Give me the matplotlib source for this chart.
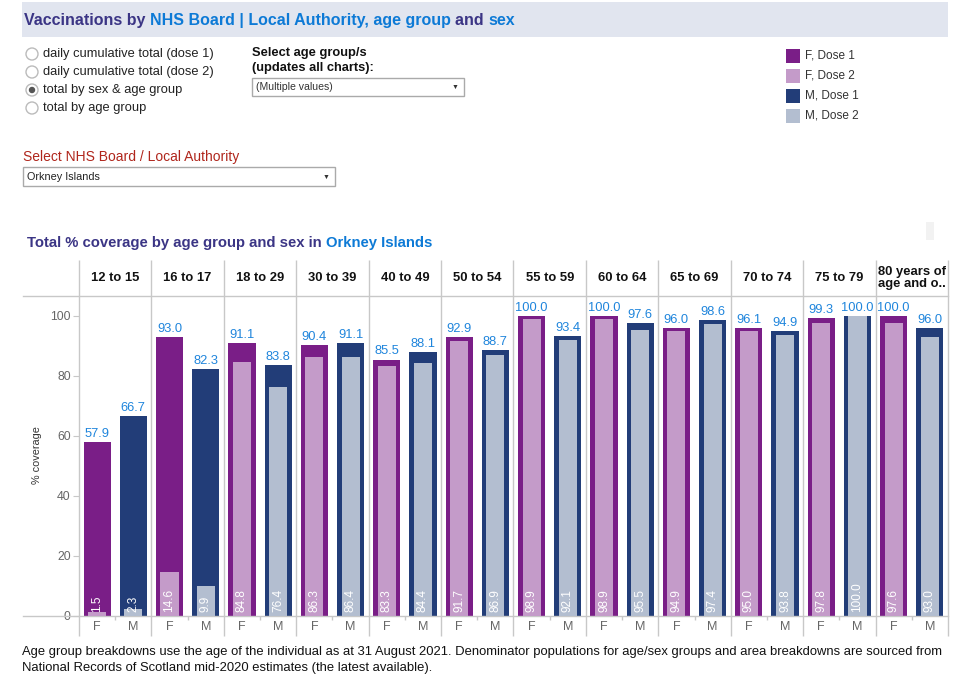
import matplotlib
matplotlib.use("Agg")
import matplotlib.pyplot as plt
from matplotlib.patches import Rectangle, Circle
from matplotlib.transforms import blended_transform_factory

plt.rcParams['font.family'] = ['Liberation Sans', 'DejaVu Sans']

# data
age_groups = ["12 to 15", "16 to 17", "18 to 29", "30 to 39", "40 to 49", "50 to 54",
              "55 to 59", "60 to 64", "65 to 69", "70 to 74", "75 to 79",
              "80 years of\nage and o.."]
f_dose1 = [57.9, 93.0, 91.1, 90.4, 85.5, 92.9, 100.0, 100.0, 96.0, 96.1, 99.3, 100.0]
f_dose2 = [1.5, 14.6, 84.8, 86.3, 83.3, 91.7, 98.9, 98.9, 94.9, 95.0, 97.8, 97.6]
m_dose1 = [66.7, 82.3, 83.8, 91.1, 88.1, 88.7, 93.4, 97.6, 98.6, 94.9, 100.0, 96.0]
m_dose2 = [2.3, 9.9, 76.4, 86.4, 84.4, 86.9, 92.1, 95.5, 97.4, 93.8, 100.0, 93.0]
radio_options = ["daily cumulative total (dose 1)", "daily cumulative total (dose 2)",
                 "total by sex & age group", "total by age group"]
legend_labels = ["F, Dose 1", "F, Dose 2", "M, Dose 1", "M, Dose 2"]

C_F1 = "#7a1e87"
C_F2 = "#c49bc9"
C_M1 = "#223d78"
C_M2 = "#b3bed0"
DARK = "#3b3585"
BLUE = "#0d7ad6"
LBL = "#1f85dc"
GRID = "#c8c8c8"
TXT = "#666666"

W, H = 970, 686
fig = plt.figure(figsize=(W / 100, H / 100), dpi=100)
rend = fig.canvas.get_renderer()

# page decoration, pixel coords
bg = fig.add_axes([0, 0, 1, 1])
bg.set_xlim(0, W)
bg.set_ylim(H, 0)
bg.axis("off")


def coloured_line(x, y, parts, size):
    # place text pieces one after another on a shared baseline
    for s, c in parts:
        tt = bg.text(x, y, s, fontsize=size, fontweight="bold", color=c, va="baseline")
        x += tt.get_window_extent(renderer=rend).width


bg.add_patch(Rectangle((22, 2), 926, 35, color="#e1e5ef", lw=0))
coloured_line(24, 25, [("Vaccinations by ", DARK),
                       ("NHS Board | Local Authority, age group ", BLUE),
                       ("and ", DARK), ("sex", BLUE)], 11.5)

for i, opt in enumerate(radio_options):
    y = 54 + i * 18
    bg.add_patch(Circle((32, y), 6, fc="white", ec="#bbbbbb", lw=1))
    if i == 2:
        bg.add_patch(Circle((32, y), 2.5, color="#555555"))
    bg.text(43, y, opt, fontsize=9.3, color="#222222", va="center")

bg.text(252, 53, "Select age group/s", fontsize=9.3, fontweight="bold", color="#111111", va="center")
bg.text(252, 68, "(updates all charts):", fontsize=9.3, fontweight="bold", color="#111111", va="center")
bg.add_patch(Rectangle((252, 78), 212, 18, fc="white", ec="#aaaaaa", lw=1))
bg.text(256, 87, "(Multiple values)", fontsize=7.6, color="#333333", va="center")
bg.text(455, 87, "\u25BC", fontsize=5, color="#333333", va="center", ha="center")

bg.text(23, 157, "Select NHS Board / Local Authority", fontsize=10, color="#b0261c", va="center")
bg.add_patch(Rectangle((23, 167), 312, 19, fc="white", ec="#aaaaaa", lw=1))
bg.text(27, 177, "Orkney Islands", fontsize=7.8, color="#222222", va="center")
bg.text(326, 177, "\u25BC", fontsize=5, color="#333333", va="center", ha="center")

for i, (lab, c) in enumerate(zip(legend_labels, [C_F1, C_F2, C_M1, C_M2])):
    y = 49 + i * 20
    bg.add_patch(Rectangle((786, y), 14, 14, color=c, lw=0))
    bg.text(805, y + 7, lab, fontsize=8.5, color="#333333", va="center")

coloured_line(27, 247, [("Total % coverage by age group and sex in ", DARK),
                        ("Orkney Islands", BLUE)], 10.7)

bg.add_patch(Rectangle((926, 222), 8, 18, color="#f2f2f2", lw=0))

bg.text(22, 652, "Age group breakdowns use the age of the individual as at 31 August 2021. "
        "Denominator populations for age/sex groups and area breakdowns are sourced from",
        fontsize=9.4, color="#111111", va="center")
bg.text(22, 668, "National Records of Scotland mid-2020 estimates (the latest available).",
        fontsize=9.4, color="#111111", va="center")

bg.text(37, 455, "% coverage", fontsize=7.8, color="#333333", rotation=90, va="center", ha="center")

# main chart
left, right, top, bottom = 79, 948, 296, 616
ax = fig.add_axes([left / W, (H - bottom) / H, (right - left) / W, (bottom - top) / H])
ax.patch.set_alpha(0)
n = len(age_groups)
ax.set_xlim(0, n)
ax.set_ylim(0, (bottom - top) / 3.0)
for s in ax.spines.values():
    s.set_visible(False)
ax.set_xticks([])
ax.set_yticks([0, 20, 40, 60, 80, 100])
ax.tick_params(axis="y", length=4, color=GRID, labelcolor=TXT, labelsize=8.8, pad=2)

outer_w = 0.375
inner_w = 0.25
xf = [i + 0.25 for i in range(n)]
xm = [i + 0.75 for i in range(n)]
ax.bar(xf, f_dose1, width=outer_w, color=C_F1, zorder=2)
ax.bar(xf, f_dose2, width=inner_w, color=C_F2, zorder=3)
ax.bar(xm, m_dose1, width=outer_w, color=C_M1, zorder=2)
ax.bar(xm, m_dose2, width=inner_w, color=C_M2, zorder=3)

for xs, d1, d2 in [(xf, f_dose1, f_dose2), (xm, m_dose1, m_dose2)]:
    for x, a, b in zip(xs, d1, d2):
        ax.annotate(f"{a:.1f}", (x, a), xytext=(0, 1.5), textcoords="offset points",
                    ha="center", va="bottom", fontsize=9.3, color=LBL)
        ax.annotate(f"{b:.1f}", (x, 0), xytext=(0, 3), textcoords="offset points",
                    ha="center", va="bottom", rotation=90, fontsize=8.5, color="white", zorder=4)

tb = blended_transform_factory(ax.transData, ax.transAxes)
ytop = (bottom - 260) / (bottom - top)
ybot = (bottom - 636) / (bottom - top)
ax.vlines(range(n + 1), ybot, ytop, transform=tb, colors=GRID, lw=1, clip_on=False)
ax.vlines([i + 0.5 for i in range(n)], -4 / (bottom - top), 0, transform=tb,
          colors=GRID, lw=1, clip_on=False)
xl = (23 - left) / (right - left)
ax.plot([xl, 1], [1, 1], transform=ax.transAxes, color=GRID, lw=1, clip_on=False)
ax.plot([xl, 1], [0, 0], transform=ax.transAxes, color=GRID, lw=1, clip_on=False)

yhead = (bottom - 278) / (bottom - top)
for i, g in enumerate(age_groups):
    ax.text(i + 0.5, yhead, g, transform=tb, ha="center", va="center", fontsize=9.4,
            fontweight="bold", color="#111111", linespacing=1.05)
yfm = (bottom - 627) / (bottom - top)
for i in range(n):
    ax.text(xf[i], yfm, "F", transform=tb, ha="center", va="center", fontsize=9, color=TXT)
    ax.text(xm[i], yfm, "M", transform=tb, ha="center", va="center", fontsize=9, color=TXT)

fig.savefig("out.png", dpi=100)
